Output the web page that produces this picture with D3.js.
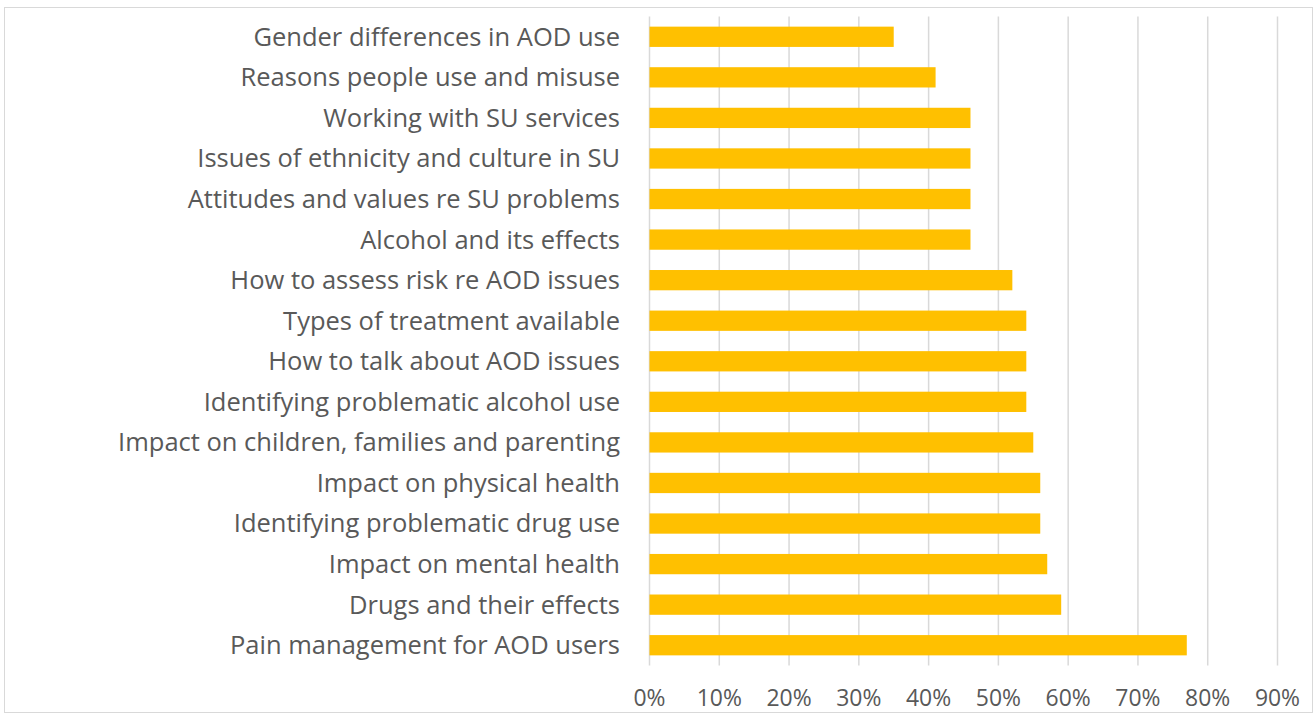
<!DOCTYPE html>
<html><head><meta charset="utf-8">
<script src="https://cdn.jsdelivr.net/npm/d3@7"></script>
<style>body{margin:0;background:#fff;} svg{display:block;}</style>
</head><body>
<svg id="c" width="1314" height="714"></svg>
<script>
const categories = [
  "Gender differences in AOD use",
  "Reasons people use and misuse",
  "Working with SU services",
  "Issues of ethnicity and culture in SU",
  "Attitudes and values re SU problems",
  "Alcohol and its effects",
  "How to assess risk re AOD issues",
  "Types of treatment available",
  "How to talk about AOD issues ",
  "Identifying problematic alcohol use",
  "Impact on children, families and parenting",
  "Impact on physical health",
  "Identifying problematic drug use",
  "Impact on mental health",
  "Drugs and their effects",
  "Pain management for AOD users"
];
const values = [0.35,0.41,0.46,0.46,0.46,0.46,0.52,0.54,0.54,0.54,0.55,0.56,0.56,0.57,0.59,0.77];
const tickValues = [0,0.1,0.2,0.3,0.4,0.5,0.6,0.7,0.8,0.9];

(function(){
const svg = d3.select("#c");
svg.append("rect").attr("x",4.5).attr("y",7.5).attr("width",1308).attr("height",705)
  .attr("fill","#fff").attr("stroke","#d9d9d9").attr("stroke-width",1);

const pLeft=649.5, pRight=1277.5, pTop=16.5, pBottom=665.5;
const x = d3.scaleLinear().domain([0,0.9]).range([pLeft,pRight]);
const y = d3.scaleBand().domain(categories).range([pTop,pBottom]).paddingInner(0.5).paddingOuter(0.25);

svg.append("g").selectAll("line").data(tickValues).join("line")
  .attr("x1",d=>x(d)).attr("x2",d=>x(d)).attr("y1",pTop).attr("y2",pBottom)
  .attr("stroke","#d9d9d9").attr("stroke-width",1.5);

svg.append("g").selectAll("rect").data(categories).join("rect")
  .attr("x",x(0)).attr("y",d=>y(d)).attr("height",y.bandwidth())
  .attr("width",(d,i)=>x(values[i])-x(0)).attr("fill","#FFC000");

const font = "'Open Sans', 'Liberation Sans', sans-serif";
const lab = svg.append("g").selectAll("text").data(categories).join("text")
  .attr("x",620).attr("y",d=>y(d)+y.bandwidth()/2).attr("dy","0.35em")
  .attr("text-anchor","end").attr("fill","#595959")
  .style("font-family",font).style("font-size","21px").text(d=>d);
const longest = lab.filter((d,i)=>i===10).node();
const w = longest.getComputedTextLength();
const fs = 21*502/w;
lab.style("font-size",fs.toFixed(2)+"px");

svg.append("g").selectAll("text").data(tickValues).join("text")
  .attr("x",d=>x(d)).attr("y",698).attr("dy","0.35em").attr("text-anchor","middle")
  .attr("fill","#595959").style("font-family",font).style("font-size",(fs*0.9).toFixed(2)+"px")
  .text(d=>d3.format(".0%")(d));
})();
</script>
</body></html>
